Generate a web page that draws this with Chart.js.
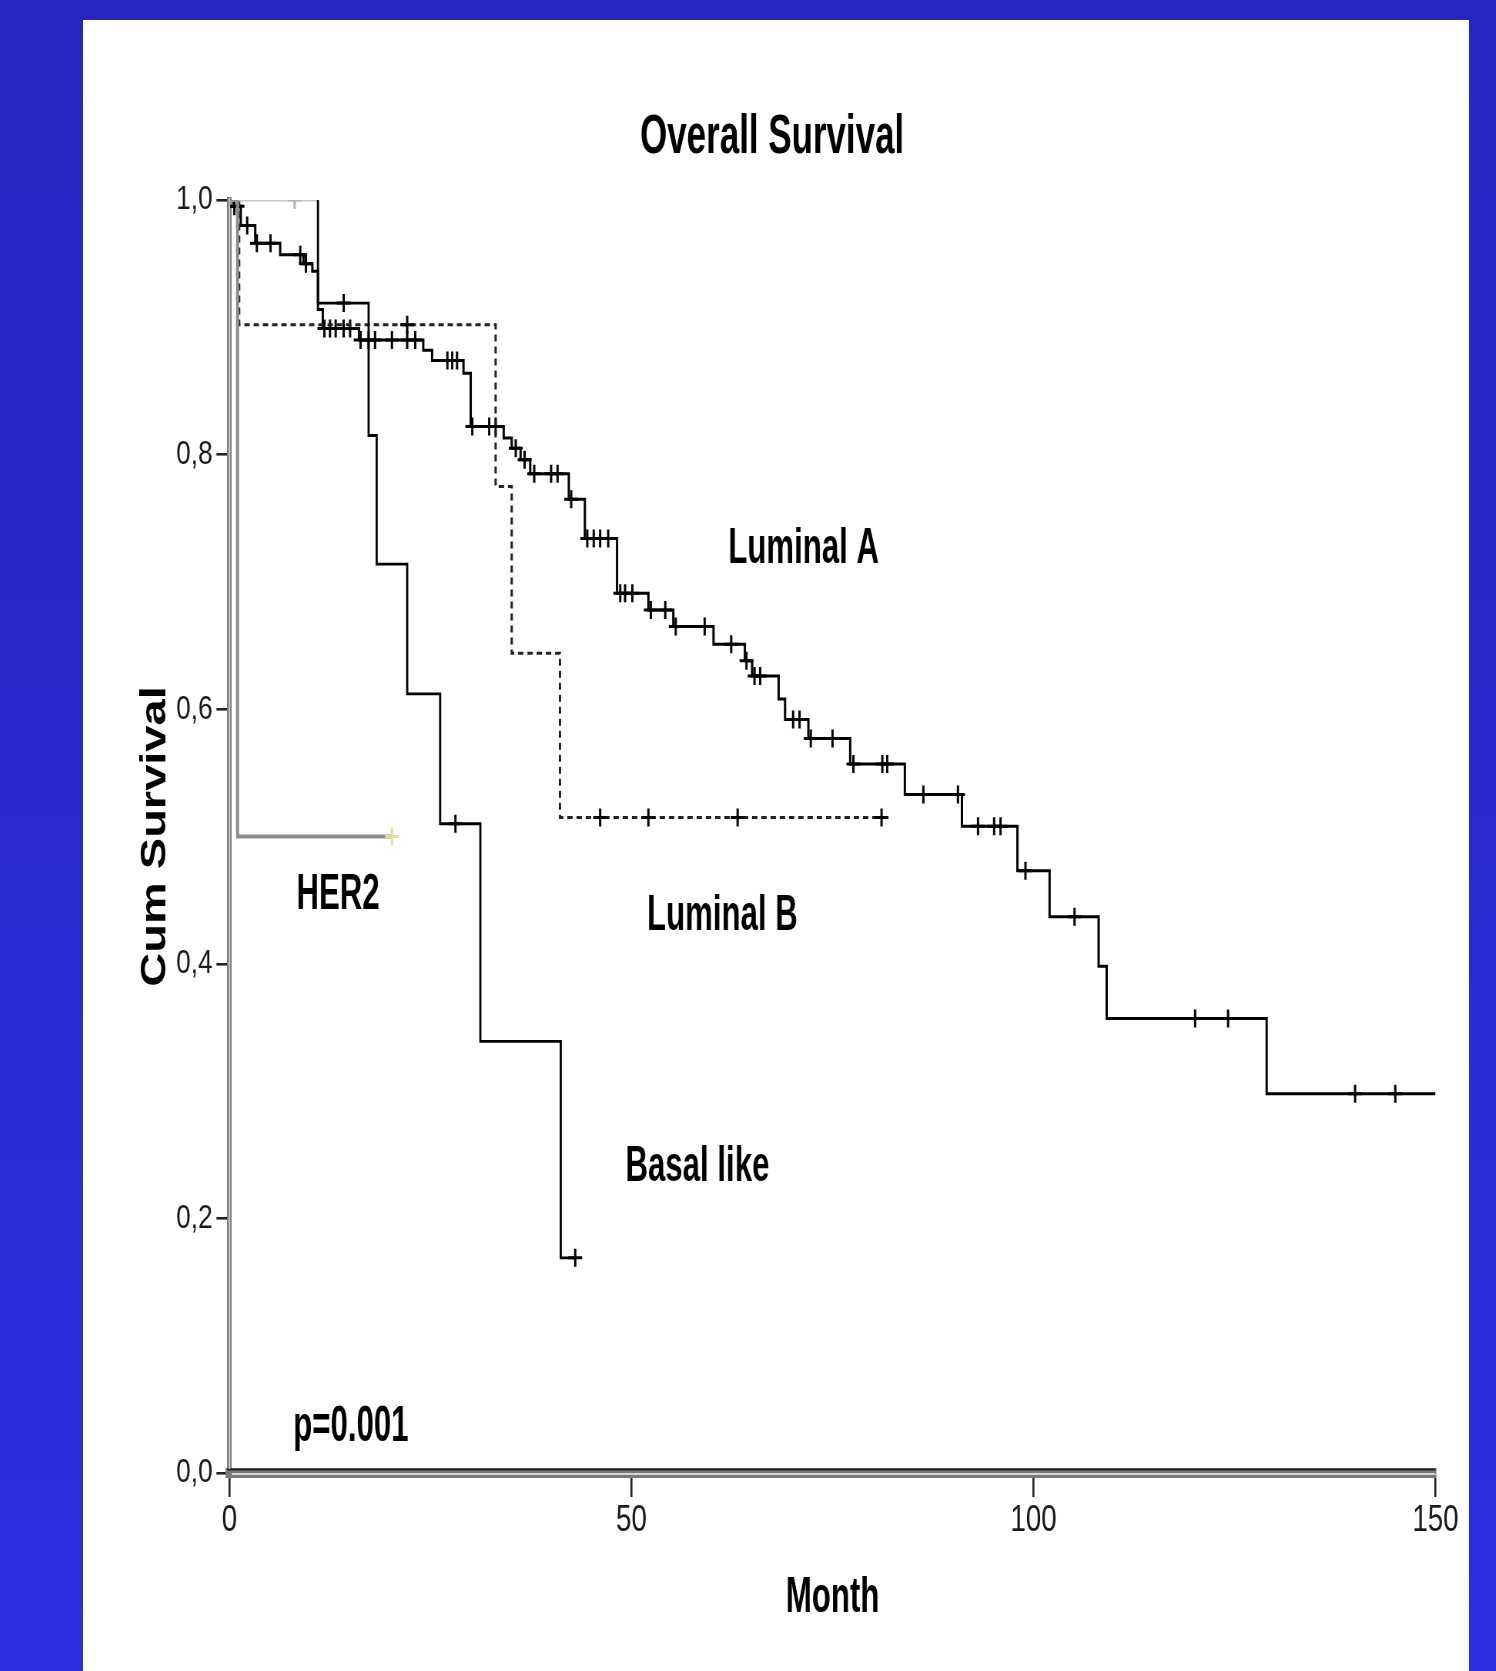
<!DOCTYPE html>
<html>
<head>
<meta charset="utf-8">
<title>Overall Survival</title>
<script src="https://cdn.jsdelivr.net/npm/chart.js@4.4.1/dist/chart.umd.min.js"></script>
<style>
 html, body { margin: 0; padding: 0; }
 body { width: 1496px; height: 1671px; overflow: hidden; position: relative;
        background: linear-gradient(#2727bf, #2e2ee2); }
 #myChart { position: absolute; left: 83px; top: 20px; background: #fff; }
</style>
</head>
<body>
<!-- canvas is drawn wider than shown, the original slide is squeezed sideways -->
<canvas id="myChart" width="1800" height="1651" style="width:1386px;height:1651px"></canvas>
<script>
'use strict';

// Kaplan-Meier steps: month of each drop and survival after it
var lumA_t = [0, 0.5, 1.4, 3.2, 6.3, 9.2, 10.3, 11.0, 11.6, 16.1, 24.1, 25.2, 29.1, 30.0, 34.1, 35.1, 36.2, 37.4,
              42.2, 44.2, 48.2, 52.1, 55.2, 60.2, 64.1, 65.0, 68.3, 69.1, 72.0, 77.2, 84.0, 91.1, 98.0, 102.0,
              108.1, 109.1, 129.0, 150];
var lumA_s = [1.0, 0.995, 0.980, 0.966, 0.957, 0.950, 0.944, 0.914, 0.899, 0.890, 0.882, 0.874, 0.864, 0.822, 0.813,
              0.805, 0.796, 0.785, 0.765, 0.734, 0.691, 0.678, 0.665, 0.651, 0.638, 0.626, 0.608, 0.592, 0.577,
              0.557, 0.533, 0.508, 0.473, 0.437, 0.398, 0.357, 0.298, 0.298];
var lumA_cens = [0.6, 1.0, 2.2, 3.4, 5.1, 8.8, 9.5, 11.8, 12.5, 13.2, 14.2, 15.0, 16.3, 17.3, 18.1, 20.2, 22.1, 23.1,
                 27.1, 27.7, 28.3, 30.2, 32.3, 33.1, 35.6, 36.7, 37.9, 40.0, 40.8, 42.5, 44.5, 45.3, 46.1, 47.1,
                 48.6, 49.2, 50.1, 52.4, 54.2, 55.5, 59.1, 62.4, 64.3, 65.3, 66.0, 70.1, 70.9, 72.3, 75.0, 77.6,
                 81.2, 81.8, 86.3, 90.6, 93.1, 95.1, 95.9, 99.0, 105.1, 120.1, 124.2, 140.0, 145.0];

var lumB_t = [0, 1.2, 33.1, 35.1, 41.1, 81.1];
var lumB_s = [1.0, 0.902, 0.775, 0.644, 0.515, 0.515];
var lumB_cens = [22.1, 46.1, 52.1, 63.2, 81.1];

var basal_t = [0, 11.0, 11.0, 17.3, 18.3, 22.1, 26.2, 31.2, 41.2, 43.0];
var basal_s = [1.0, 1.0, 0.919, 0.815, 0.714, 0.612, 0.510, 0.339, 0.169, 0.169];
var basal_cens = [8.1, 14.2, 28.1, 43.0];

var her2_t = [0, 1.0, 20.2];
var her2_s = [1.0, 0.5, 0.5];
var her2_cens = [20.2];

var xTickLabels = ['0', '50', '100', '150'];
var yTickLabels = ['0,0', '0,2', '0,4', '0,6', '0,8', '1,0'];

// text put on the plot, placed in month / survival units
var notes = [
 {text: 'Luminal A', month: 71.4, surv: 0.726},
 {text: 'Luminal B', month: 61.3, surv: 0.437},
 {text: 'HER2', month: 13.5, surv: 0.454},
 {text: 'Basal like', month: 58.2, surv: 0.240},
 {text: 'p=0.001', month: 15.1, surv: 0.036}
];

(function () {

 var ctx = document.getElementById('myChart');
 var FONT = '"Liberation Sans", Arial, sans-serif';
 var NARROW = 0.81;

 function steps(ts, vs) {
  return ts.map(function (t, i) { return {x: t, y: vs[i]}; });
 }

 // censored cases sit on the curve, so read the level there
 function marks(ts, vs, cens) {
  return cens.map(function (c) {
   var s = vs[0];
   for (var i = 0; i < ts.length; i++) { if (ts[i] <= c) s = vs[i]; }
   return {x: c, y: s};
  });
 }

 function censor(data, color) {
  return {
   type: 'scatter', data: data, showLine: false,
   pointStyle: 'cross', pointRadius: 9, pointBorderWidth: 3,
   pointBorderColor: color, pointBackgroundColor: color
  };
 }

 var axisLines = {
  id: 'axisLines',
  afterDraw: function (chart) {
   var c = chart.ctx, a = chart.chartArea;
   c.save();
   c.strokeStyle = '#222';
   c.lineWidth = 2;
   c.beginPath(); c.moveTo(a.left - 3, a.bottom - 3.5); c.lineTo(a.right, a.bottom - 3.5); c.stroke();
   c.strokeStyle = '#d4d4d4';
   c.lineWidth = 2;
   c.beginPath(); c.moveTo(a.left + 3, a.bottom + 1); c.lineTo(a.right, a.bottom + 1); c.stroke();
   c.lineWidth = 1.6;
   c.beginPath(); c.moveTo(a.left, a.top - 2); c.lineTo(a.left, a.bottom - 4); c.stroke();
   c.restore();
  }
 };

 var texts = {
  id: 'texts',
  afterDraw: function (chart) {
   var c = chart.ctx, xs = chart.scales.x, ys = chart.scales.y;
   function narrow(txt, x, y, size) {
    c.save();
    c.translate(x, y);
    c.scale(NARROW, 1);
    c.font = 'bold ' + size + 'px ' + FONT;
    c.fillText(txt, 0, 0);
    c.restore();
   }
   c.save();
   c.fillStyle = '#000';
   c.textAlign = 'center';
   c.textBaseline = 'middle';
   narrow('Overall Survival', chart.width / 2 - 5, 118, 56);
   narrow('Month', xs.getPixelForValue(75), 1578, 50);
   notes.forEach(function (n) {
    narrow(n.text, xs.getPixelForValue(n.month), ys.getPixelForValue(n.surv), 50);
   });
   c.translate(94, ys.getPixelForValue(0.5));
   c.rotate(-Math.PI / 2);
   c.font = 'bold 47px ' + FONT;
   c.fillText('Cum Survival', 0, 0);
   c.restore();
  }
 };

 var myChart = new Chart(ctx, {
  type: 'line',
  data: {
   datasets: [
    Object.assign(censor(marks(her2_t, her2_s, her2_cens), '#e4dc9c'), {label: 'HER2 censored'}),
    {
     label: 'HER2', data: steps(her2_t, her2_s), stepped: true,
     borderColor: '#8c8c8c', borderWidth: 4, pointRadius: 0
    },
    Object.assign(censor(marks(basal_t, basal_s, basal_cens), '#000'), {
     label: 'Basal censored',
     pointBorderColor: function (c) { return c.raw && c.raw.y >= 1 ? '#b4b4b4' : '#000'; }
    }),
    {
     label: 'Basal like', data: steps(basal_t, basal_s), stepped: true,
     borderColor: '#000', borderWidth: 2.8, pointRadius: 0,
     segment: {borderColor: function (c) { return c.p0DataIndex === 0 ? '#c8c8c8' : '#000'; }}
    },
    Object.assign(censor(marks(lumB_t, lumB_s, lumB_cens), '#000'), {label: 'Luminal B censored'}),
    {
     label: 'Luminal B', data: steps(lumB_t, lumB_s), stepped: true,
     borderColor: '#222', borderWidth: 3, borderDash: [7, 5], pointRadius: 0
    },
    Object.assign(censor(marks(lumA_t, lumA_s, lumA_cens), '#000'), {label: 'Luminal A censored'}),
    {
     label: 'Luminal A', data: steps(lumA_t, lumA_s), stepped: true,
     borderColor: '#000', borderWidth: 3, pointRadius: 0
    }
   ]
  },
  options: {
   responsive: false,
   animation: false,
   devicePixelRatio: 1,
   layout: {padding: {left: 0, right: 43.5, top: 180, bottom: 0}},
   plugins: {legend: {display: false}, tooltip: {enabled: false}, title: {display: false}},
   scales: {
    x: {
     type: 'linear', min: 0, max: 150,
     afterFit: function (s) { s.height = 198; },
     border: {display: true, color: '#7a7a7a', width: 10},
     grid: {drawOnChartArea: false, drawTicks: true, tickLength: 24, color: '#222', lineWidth: 2.6},
     ticks: {
      stepSize: 50, padding: 2, color: '#1a1a1a', maxRotation: 0,
      font: {family: FONT, size: 36},
      callback: function (v, i) { return xTickLabels[i]; }
     }
    },
    y: {
     min: 0, max: 1,
     afterFit: function (s) { s.width = 190.3; },
     border: {display: true, color: '#7a7a7a', width: 6},
     grid: {drawOnChartArea: false, drawTicks: true, tickLength: 17, color: '#222', lineWidth: 2.6},
     ticks: {
      stepSize: 0.2, padding: 5, color: '#1a1a1a',
      font: {family: FONT, size: 34},
      callback: function (v, i) { return yTickLabels[i]; }
     }
    }
   }
  },
  plugins: [axisLines, texts]
 });

})();
</script>
</body>
</html>
